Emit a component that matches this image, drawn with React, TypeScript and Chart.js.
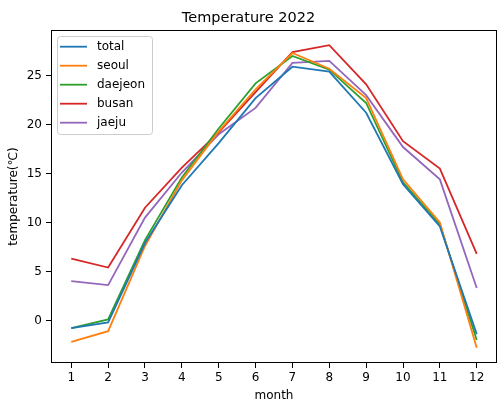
import { useEffect, useRef } from "react";
import { Chart, registerables, Plugin } from "chart.js";

Chart.register(...registerables);

const months = [1, 2, 3, 4, 5, 6, 7, 8, 9, 10, 11, 12];
const total = [-0.8, -0.2, 7.9, 13.8, 18.1, 22.7, 25.9, 25.4, 21.2, 13.9, 9.6, -1.4];
const seoul = [-2.2, -1.1, 7.6, 14.3, 19.3, 23.6, 27.3, 25.7, 22.7, 14.4, 10.0, -2.8];
const daejeon = [-0.8, 0.1, 8.2, 14.6, 19.6, 24.2, 27.0, 25.6, 22.2, 14.1, 9.8, -2.0];
const busan = [6.3, 5.4, 11.5, 15.6, 19.2, 23.3, 27.4, 28.1, 24.1, 18.3, 15.5, 6.8];
const jaeju = [4.0, 3.6, 10.5, 15.1, 19.0, 21.7, 26.3, 26.5, 23.0, 17.7, 14.4, 3.3];
const seriesNames = ["total", "seoul", "daejeon", "busan", "jaeju"];
const colors = ["#1f77b4", "#ff7f0e", "#2ca02c", "#d62728", "#9467bd"];
const yTicks = [0, 5, 10, 15, 20, 25];

const FONT = "'DejaVu Sans', sans-serif";

// box around the axes + matplotlib style legend
const framePlugin: Plugin = {
  id: "frame",
  afterDraw(chart) {
    const { ctx, chartArea: a } = chart;
    ctx.save();
    ctx.strokeStyle = "#000";
    ctx.lineWidth = 1;
    ctx.strokeRect(a.left + 0.5, a.top + 0.5, a.right - a.left - 1, a.bottom - a.top - 1);

    const x = 57, y = 36, w = 95, h = 98, r = 3;
    ctx.beginPath();
    ctx.roundRect(x + 0.5, y + 0.5, w, h, r);
    ctx.fillStyle = "rgba(255,255,255,0.8)";
    ctx.fill();
    ctx.strokeStyle = "#cccccc";
    ctx.stroke();
    ctx.font = `12px ${FONT}`;
    ctx.textBaseline = "middle";
    ctx.fillStyle = "#000";
    seriesNames.forEach((name, i) => {
      const ly = 46.7 + i * 19;
      ctx.beginPath();
      ctx.strokeStyle = colors[i];
      ctx.lineWidth = 1.8;
      ctx.moveTo(60, ly);
      ctx.lineTo(87, ly);
      ctx.stroke();
      ctx.fillText(name, 97, ly);
    });
    ctx.restore();
  },
};

export default function App() {
  const canvasRef = useRef<HTMLCanvasElement | null>(null);

  useEffect(() => {
    if (!canvasRef.current) return;
    const values = [total, seoul, daejeon, busan, jaeju];
    const chart = new Chart(canvasRef.current, {
      type: "line",
      data: {
        labels: months,
        datasets: seriesNames.map((name, i) => ({
          label: name,
          data: months.map((m, j) => ({ x: m, y: values[i][j] })),
          borderColor: colors[i],
          backgroundColor: colors[i],
          borderWidth: 1.8,
          pointRadius: 0,
          tension: 0,
        })),
      },
      options: {
        animation: false,
        responsive: false,
        devicePixelRatio: 1,
        layout: { padding: { left: 0, right: 6, top: 0, bottom: 0 } },
        plugins: {
          legend: { display: false },
          tooltip: { enabled: false },
          title: {
            display: true,
            text: "Temperature 2022",
            color: "#000",
            font: { family: FONT, size: 14.5, weight: "normal" },
            padding: { top: 9.5, bottom: 3.1 },
          },
        },
        scales: {
          x: {
            type: "linear",
            min: 0.45,
            max: 12.55,
            afterBuildTicks: (s) => {
              s.ticks = months.map((v) => ({ value: v }));
            },
            afterFit: (s) => {
              s.height = 39;
            },
            ticks: {
              color: "#000",
              font: { family: FONT, size: 12 },
              padding: 3,
              maxRotation: 0,
              autoSkip: false,
              callback: (v) => String(v),
            },
            grid: {
              drawOnChartArea: false,
              drawTicks: true,
              tickLength: 5,
              color: "#000",
            },
            border: { display: false },
            title: {
              display: true,
              text: "month",
              color: "#000",
              font: { family: FONT, size: 12 },
              padding: { top: 0, bottom: -1.5 },
            },
          },
          y: {
            min: -4.35,
            max: 29.65,
            afterBuildTicks: (s) => {
              s.ticks = yTicks.map((v) => ({ value: v }));
            },
            afterFit: (s) => {
              s.width = 51;
            },
            ticks: {
              color: "#000",
              font: { family: FONT, size: 12 },
              padding: 4,
              callback: (v) => String(v),
            },
            grid: {
              drawOnChartArea: false,
              drawTicks: true,
              tickLength: 5,
              color: "#000",
            },
            border: { display: false },
            title: {
              display: true,
              text: "temperature(℃)",
              color: "#000",
              font: { family: FONT, size: 12 },
              padding: { top: 6.5, bottom: 0 },
            },
          },
        },
      },
      plugins: [framePlugin],
    });
    return () => chart.destroy();
  }, []);

  return (
    <div style={{ position: "absolute", left: 0, top: 0, width: 503, height: 402, background: "#fff" }}>
      <canvas ref={canvasRef} width={503} height={402}></canvas>
    </div>
  );
}
